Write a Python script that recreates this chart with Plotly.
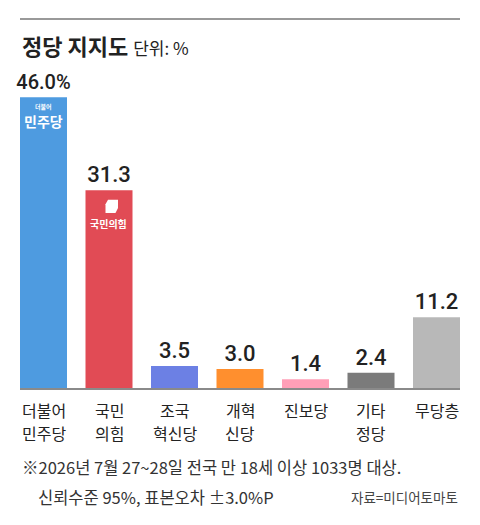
import plotly.graph_objects as go

# 정당 지지도 (단위: %)
parties = ['더불어<br>민주당', '국민<br>의힘', '조국<br>혁신당', '개혁<br>신당', '진보당', '기타<br>정당', '무당층']
support = [46.0, 31.3, 3.5, 3.0, 1.4, 2.4, 11.2]
value_labels = ['46.0%', '31.3', '3.5', '3.0', '1.4', '2.4', '11.2']
bar_colors = ['#4E9BE0', '#E14B55', '#6C80E4', '#FF8F2E', '#FF9FB7', '#7B7B7B', '#B8B8B8']

FONT = 'Noto Sans CJK KR'
NUM_FONT = 'Roboto, Noto Sans CJK KR'

fig = go.Figure()
fig.add_trace(go.Bar(
    x=list(range(len(parties))),
    y=support,
    width=0.7176,
    marker=dict(color=bar_colors, line=dict(width=0)),
    text=value_labels,
    textposition='outside',
    constraintext='none',
    cliponaxis=False,
    textfont=dict(family=NUM_FONT, size=[20] + [22] * 6, color='#222222', weight=500),
    hoverinfo='skip',
))

# 페이지 body 여백(8px)을 감안한 크기
fig.update_layout(
    width=472, height=517,
    margin=dict(l=12, r=20, t=52, b=137),
    paper_bgcolor='white', plot_bgcolor='white',
    showlegend=False,
    font=dict(family=FONT, color='#222222'),
    xaxis=dict(
        range=[-0.3588, 6.3588],
        showticklabels=False, ticks='',
        showgrid=False, zeroline=False,
        showline=True, linecolor='#8a8a8a', linewidth=2,
        fixedrange=True,
    ),
    yaxis=dict(range=[0, 51.9], visible=False, fixedrange=True),
)

# x축 정당명 (두 줄)
for i, name in enumerate(parties):
    for j, line in enumerate(name.split('<br>')):
        fig.add_annotation(
            x=i, xref='x', yref='paper', y=(388 - 410 - 23 * j) / 328,
            xanchor='center', yanchor='middle', text=line, showarrow=False,
            font=dict(family=FONT, size=16, color='#222222'),
        )

# 상단 회색 선
fig.add_shape(type='line', xref='paper', yref='paper', x0=0, x1=1, y0=1.125, y1=1.125,
              line=dict(color='#999999', width=2))

# 제목
fig.add_annotation(
    xref='paper', yref='paper', x=0, y=1.046, xanchor='left', yanchor='middle',
    text="<b>정당 지지도</b> <span style='font-size:17px'>단위: %</span>",
    showarrow=False, font=dict(family=FONT, size=22, color='#222222'),
)

# 정당 로고 (텍스트로 표현)
fig.add_annotation(xref='paper', yref='paper', x=0.0535, y=(388 - 116) / 328,
                   xanchor='center', yanchor='middle',
                   text="<b><span style='font-size:6px'>더불어</span><br>민주당</b>",
                   showarrow=False,
                   font=dict(family=FONT, size=14, color='white'))
fig.add_shape(type='path', xref='paper', yref='paper',
              path='M 0.2000 0.5738 L 0.2227 0.5738 L 0.2227 0.5488 L 0.2170 0.5335 '
                   'L 0.1943 0.5335 L 0.1943 0.5600 Z',
              fillcolor='white', line=dict(width=0))
fig.add_annotation(xref='paper', yref='paper', x=0.2012, y=(388 - 223) / 328,
                   xanchor='center', yanchor='middle',
                   text='<b>국민의힘</b>', showarrow=False,
                   font=dict(family=FONT, size=10, color='white'))

# 각주
fig.add_annotation(
    xref='paper', yref='paper', x=0, y=(388 - 467) / 328, xanchor='left', yanchor='middle',
    text='※2026년 7월 27~28일 전국 만 18세 이상 1033명 대상.',
    showarrow=False, font=dict(family=FONT, size=16.5, color='#333333'),
)
fig.add_annotation(
    xref='paper', yref='paper', x=16 / 440, y=(388 - 497) / 328, xanchor='left', yanchor='middle',
    text='신뢰수준 95%, 표본오차 ±3.0%P',
    showarrow=False, font=dict(family=FONT, size=16.5, color='#333333'),
)
fig.add_annotation(
    xref='paper', yref='paper', x=1, y=(388 - 497) / 328, xanchor='right', yanchor='middle',
    text='자료=미디어토마토',
    showarrow=False, font=dict(family=FONT, size=13.5, color='#444444'),
)

fig.write_html('out.html')
